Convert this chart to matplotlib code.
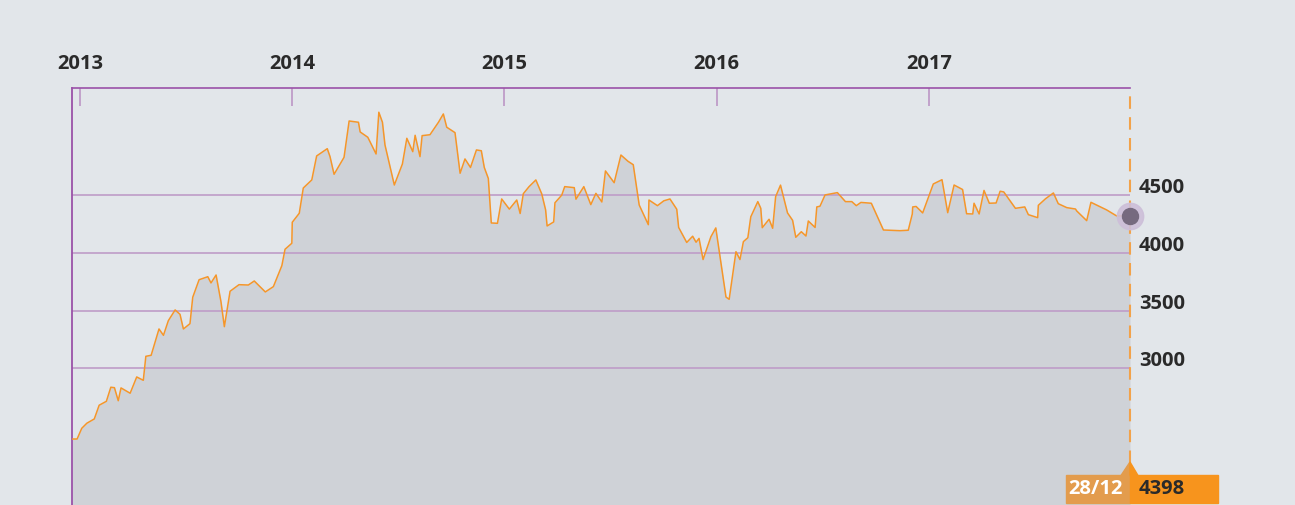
import matplotlib
matplotlib.use("Agg")
import matplotlib.pyplot as plt
from matplotlib import transforms
from matplotlib.patches import Rectangle, Polygon

# index level, x in decimal years
years = [
    2012.962, 2012.986, 2013.008, 2013.032, 2013.067, 2013.090, 2013.124, 2013.145,
    2013.162, 2013.180, 2013.193, 2013.236, 2013.267, 2013.298, 2013.310, 2013.335,
    2013.372, 2013.393, 2013.416, 2013.448, 2013.471, 2013.487, 2013.518, 2013.531,
    2013.561, 2013.602, 2013.617, 2013.641, 2013.664, 2013.680, 2013.707, 2013.749,
    2013.793, 2013.821, 2013.873, 2013.911, 2013.951, 2013.966, 2013.998, 2014.000,
    2014.033, 2014.052, 2014.092, 2014.115, 2014.165, 2014.178, 2014.197, 2014.244,
    2014.257, 2014.268, 2014.312, 2014.320, 2014.356, 2014.395, 2014.408, 2014.425,
    2014.437, 2014.481, 2014.519, 2014.540, 2014.568, 2014.579, 2014.602, 2014.612,
    2014.649, 2014.689, 2014.712, 2014.728, 2014.767, 2014.791, 2014.814, 2014.840,
    2014.868, 2014.891, 2014.905, 2014.924, 2014.938, 2014.967, 2014.987, 2015.023,
    2015.058, 2015.074, 2015.089, 2015.116, 2015.148, 2015.176, 2015.194, 2015.201,
    2015.232, 2015.238, 2015.270, 2015.284, 2015.329, 2015.337, 2015.374, 2015.407,
    2015.431, 2015.459, 2015.476, 2015.517, 2015.549, 2015.582, 2015.607, 2015.635,
    2015.678, 2015.681, 2015.721, 2015.751, 2015.780, 2015.812, 2015.821, 2015.859,
    2015.887, 2015.903, 2015.917, 2015.936, 2015.973, 2015.996, 2016.017, 2016.044,
    2016.059, 2016.091, 2016.110, 2016.126, 2016.147, 2016.161, 2016.194, 2016.208,
    2016.215, 2016.247, 2016.264, 2016.278, 2016.301, 2016.334, 2016.358, 2016.373,
    2016.399, 2016.421, 2016.432, 2016.464, 2016.472, 2016.487, 2016.511, 2016.569,
    2016.607, 2016.637, 2016.658, 2016.680, 2016.729, 2016.786, 2016.864, 2016.903,
    2016.922, 2016.924, 2016.940, 2016.971, 2017.021, 2017.062, 2017.089, 2017.119,
    2017.159, 2017.178, 2017.207, 2017.213, 2017.237, 2017.260, 2017.285, 2017.317,
    2017.336, 2017.353, 2017.408, 2017.452, 2017.469, 2017.513, 2017.516, 2017.550,
    2017.587, 2017.610, 2017.650, 2017.691, 2017.697, 2017.744, 2017.764, 2017.838,
    2017.885, 2017.917, 2017.948,
]
values = [
    2387, 2387, 2480, 2524, 2561, 2680, 2714, 2836,
    2832, 2719, 2830, 2784, 2925, 2896, 3104, 3113,
    3341, 3286, 3413, 3506, 3468, 3341, 3387, 3616,
    3768, 3794, 3740, 3809, 3578, 3361, 3668, 3725,
    3722, 3757, 3662, 3708, 3890, 4032, 4084, 4266,
    4344, 4563, 4633, 4841, 4904, 4835, 4682, 4829,
    5003, 5144, 5133, 5049, 5003, 4858, 5220, 5133,
    4936, 4589, 4771, 4994, 4878, 5020, 4835, 5017,
    5025, 5133, 5205, 5090, 5043, 4691, 4815, 4741,
    4893, 4886, 4741, 4646, 4260, 4257, 4468, 4380,
    4459, 4342, 4514, 4575, 4633, 4511, 4373, 4234,
    4269, 4435, 4501, 4575, 4566, 4466, 4575, 4419,
    4517, 4442, 4711, 4609, 4849, 4795, 4765, 4416,
    4245, 4459, 4410, 4452, 4468, 4379, 4221, 4091,
    4145, 4093, 4126, 3943, 4141, 4217, 3956, 3618,
    3598, 4011, 3943, 4098, 4132, 4314, 4445, 4387,
    4219, 4292, 4214, 4488, 4588, 4347, 4283, 4136,
    4184, 4147, 4277, 4221, 4399, 4405, 4503, 4523,
    4445, 4445, 4410, 4438, 4431, 4199, 4193, 4197,
    4338, 4399, 4403, 4347, 4598, 4635, 4349, 4589,
    4550, 4340, 4338, 4431, 4338, 4542, 4431, 4433,
    4535, 4529, 4387, 4399, 4332, 4306, 4413, 4470,
    4520, 4427, 4393, 4381, 4364, 4280, 4439, 4373,
    4321, 4321, 4321,
]
year_ticks = [2013, 2014, 2015, 2016, 2017]
grid_levels = [3000, 3500, 4000, 4500]
last_date = "28/12"
last_value = "4398"

BG = "#e2e6ea"
FILL = "#cfd2d7"
ORANGE = "#f5962a"
PURPLE = "#9b52a8"
PURPLE_LIGHT = "#bf9cc8"
DARK = "#2a2a2a"
FONT = ["Open Sans", "DejaVu Sans"]
WEIGHT = "bold"

W, H = 1295, 505
fig = plt.figure(figsize=(W / 100, H / 100), dpi=100, facecolor=BG)
ax = fig.add_axes([72 / W, 0, (1130 - 72) / W, 1 - 88 / H])
ax.set_facecolor("none")

ymin, ymax = 1815, 5430
ax.set_xlim(years[0], years[-1])
ax.set_ylim(ymin, ymax)

ax.fill_between(years, values, ymin, color=FILL, lw=0, zorder=1)
for lvl in grid_levels:
    ax.axhline(lvl, color=PURPLE_LIGHT, lw=1.2, zorder=2)
ax.plot(years, values, color=ORANGE, lw=1.1, zorder=3)

# dashed marker line at the last point
ax.axvline(years[-1], ymin=(H - 463) / (H - 88), ymax=1, color="#f2a24a",
           lw=1.5, ls=(0, (6, 4)), clip_on=False, zorder=4)
ax.plot(years[-1], values[-1], "o", ms=19, color="#cdbfd9", alpha=0.9,
        clip_on=False, zorder=5)
ax.plot(years[-1], values[-1], "o", ms=11.5, color="#766a7f", clip_on=False, zorder=6)

for side in ["right", "bottom"]:
    ax.spines[side].set_visible(False)
ax.spines["left"].set_color(PURPLE)
ax.spines["left"].set_linewidth(1.3)
ax.spines["top"].set_color(PURPLE)
ax.spines["top"].set_linewidth(1.2)

ax.xaxis.tick_top()
ax.set_xticks(year_ticks)
ax.set_xticklabels([str(y) for y in year_ticks], fontfamily=FONT,
                   fontsize=14.5, fontweight=WEIGHT, color=DARK)
ax.tick_params(axis="x", direction="in", length=13, width=1.3,
               color=PURPLE_LIGHT, pad=10)
ax.xaxis.get_major_ticks()[0].tick2line.set_color(PURPLE)
ax.set_yticks([])

# y labels sit just above their grid lines, right of the plot
base = transforms.blended_transform_factory(ax.transAxes, ax.transData)
lab_tr = transforms.offset_copy(base, fig=fig, x=9, y=7, units="dots")
for lvl in grid_levels:
    ax.text(1, lvl, str(lvl), transform=lab_tr, ha="left", va="center",
            fontfamily=FONT, fontsize=14.5, fontweight=WEIGHT, color=DARK)

# last value badge
def px(x, y):
    return (x / W, 1 - y / H)

fig.patches.append(Rectangle(px(1066, 503), 64 / W, 28 / H,
                             transform=fig.transFigure, color="#e39c4d", zorder=10))
fig.patches.append(Rectangle(px(1130, 503), 88 / W, 28 / H,
                             transform=fig.transFigure, color="#f7941d", zorder=10))
fig.patches.append(Polygon([px(1121, 475.5), px(1130, 462), px(1130, 475.5)],
                           transform=fig.transFigure, color="#e39c4d", zorder=10))
fig.patches.append(Polygon([px(1130, 475.5), px(1130, 462), px(1138, 475.5)],
                           transform=fig.transFigure, color="#f7941d", zorder=10))
fig.text(*px(1095, 489), last_date, ha="center", va="center", fontfamily=FONT,
         fontsize=14.5, fontweight=WEIGHT, color="white", zorder=11)
fig.text(*px(1139, 489), last_value, ha="left", va="center", fontfamily=FONT,
         fontsize=14.5, fontweight=WEIGHT, color=DARK, zorder=11)

fig.savefig("out.png", dpi=100, facecolor=BG)
